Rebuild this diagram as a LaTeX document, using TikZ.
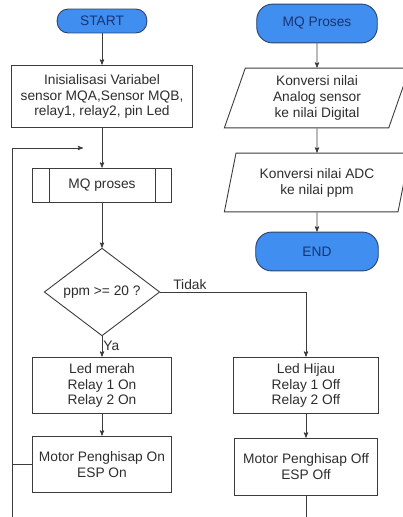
\documentclass[tikz,border=0pt]{standalone}
\usepackage{fontspec}
\setmainfont{Liberation Sans}
\usepackage{tikz}
\usetikzlibrary{arrows}
\usetikzlibrary{shapes.geometric}
\definecolor{termblue}{RGB}{64,142,240}
\definecolor{termtext}{RGB}{25,52,115}
\definecolor{termline}{RGB}{45,65,105}
\definecolor{flowline}{RGB}{60,60,60}
\definecolor{flowtext}{RGB}{45,45,45}
\tikzset{
 line/.style = {draw=flowline, line width=.9pt},
 box/.style  = {line, align=center, inner sep=0pt, text=flowtext,
                font=\fontsize{13.8}{16}\selectfont},
 term/.style = {box, draw=termline, fill=termblue, text=termtext},
 para/.style = {box, trapezium, trapezium left angle=74, trapezium right angle=106,
                trapezium stretches=true, minimum width=186},
 lbl/.style  = {text=flowtext, inner sep=1pt, font=\fontsize{13.8}{16}\selectfont}
}

\begin{document}
\begin{tikzpicture}[x=1bp, y=-1bp, >=stealth']
\useasboundingbox (0,0) rectangle (402,517);
\node[term, minimum width=90, minimum height=24, rounded corners=11] (start) at (102,21) {START};
\node[box, minimum width=181, minimum height=63] (init) at (102,96.5) {Inisialisasi Variabel\\sensor MQA,Sensor MQB,\\relay1, relay2, pin Led};
\node[box, minimum width=140, minimum height=35] (mq) at (102,185.5) {MQ proses};
\draw[line] ([xshift=18pt]mq.north west) -- ([xshift=18pt]mq.south west);
\draw[line] ([xshift=-17pt]mq.north east) -- ([xshift=-17pt]mq.south east);
\node[box, diamond, aspect=1.3, minimum width=116, minimum height=88] (cek) at (102,292) {ppm >= 20 ?};
\node[box, minimum width=140, minimum height=57] (merah) at (102,385.5) {Led merah\\Relay 1 On\\Relay 2 On};
\node[box, minimum width=140, minimum height=57] (motor1) at (102,464.5) {Motor Penghisap On\\ESP On};
\node[box, minimum width=145, minimum height=57] (hijau) at (306,385.5) {Led Hijau\\Relay 1 Off\\Relay 2 Off};
\node[box, minimum width=144, minimum height=58] (motor2) at (306,467) {Motor Penghisap Off\\ESP Off};

\node[term, minimum width=121, minimum height=39, rounded corners=16] (mqp) at (317,23.5) {MQ Proses};
\node[para, minimum height=60] (adc) at (317,98) {Konversi nilai\\Analog sensor\\ke nilai Digital};
\node[para, minimum height=59] (ppm) at (317,182.5) {Konversi nilai ADC\\ke nilai ppm};
\node[term, minimum width=123, minimum height=39, rounded corners=16] (end) at (317,251.5) {END};

\foreach \a/\b in {start/init, init/mq, mq/cek, merah/motor1, hijau/motor2, mqp/adc, adc/ppm, ppm/end}
 \draw[line, ->] (\a) -- (\b);
\draw[line, ->] (cek.south) -- (merah.north) node[lbl, pos=.45, anchor=west] {Ya};
\draw[line, ->] (cek.east) -| (hijau.north) node[lbl, pos=.04, anchor=base west, yshift=3pt] {Tidak};

\coordinate (lb) at (12,517);
\coordinate (li) at (83,148);
\draw[line] (motor1.west) -- (motor1.west -| lb);
\draw[line, ->] (lb) |- (li);
\draw[line] (motor2.south) -- (motor2.south |- lb);
\end{tikzpicture}
\end{document}
